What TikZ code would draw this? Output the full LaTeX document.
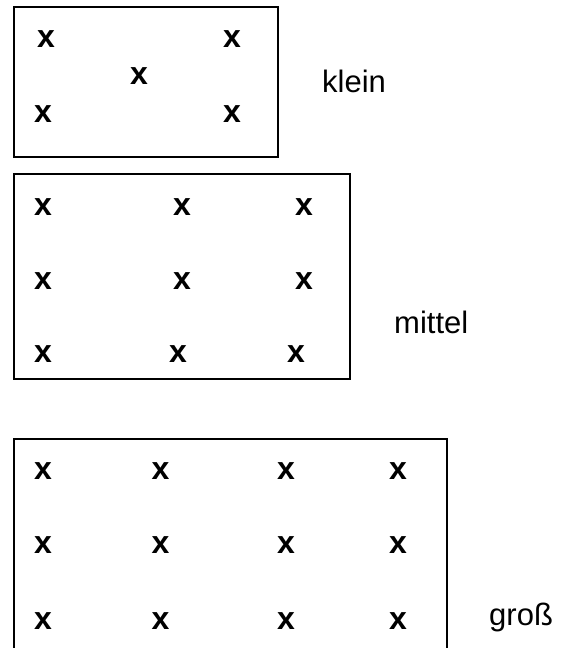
\documentclass[tikz,border=0pt]{standalone}
\usepackage{fontspec}
\setmainfont{Liberation Sans}
\begin{document}
\begin{tikzpicture}[x=1pt,y=-1pt,
  kreuz/.style={anchor=base,inner sep=0pt,font=\fontsize{32}{38}\selectfont\bfseries},
  etikett/.style={anchor=base west,inner sep=0pt,font=\fontsize{31}{37}\selectfont},
  rahmen/.style={line width=1.4pt,black}]
\useasboundingbox[fill=white] (0,0) rectangle (570,648);
% boxes
\draw[rahmen] (14,7) rectangle (278,157);
\draw[rahmen] (14,174) rectangle (350,379);
\draw[rahmen] (14,648) -- (14,439) -- (447,439) -- (447,648);
% klein
\node[kreuz] (k1) at (46,47) {x};
\node[kreuz] (k2) at (232,47) {x};
\node[kreuz] (k3) at (139,84) {x};
\node[kreuz] (k4) at (43,122) {x};
\node[kreuz] (k5) at (232,122) {x};
% mittel
\node[kreuz] (m11) at (43,215) {x};
\node[kreuz] (m12) at (182,215) {x};
\node[kreuz] (m13) at (304,215) {x};
\node[kreuz] (m21) at (43,289) {x};
\node[kreuz] (m22) at (182,289) {x};
\node[kreuz] (m23) at (304,289) {x};
\node[kreuz] (m31) at (43,362) {x};
\node[kreuz] (m32) at (178,362) {x};
\node[kreuz] (m33) at (296,362) {x};
% gross
\foreach \r/\yy in {1/479,2/553,3/629}{
  \foreach \c/\xx in {1/43,2/160.5,3/286,4/398}{
    \node[kreuz] (g\r\c) at (\xx,\yy) {x};
  }
}
% labels
\node[etikett] (lk) at (322,92) {klein};
\node[etikett] (lm) at (394,333) {mittel};
\node[etikett] (lg) at (489,625) {groß};
\end{tikzpicture}
\end{document}
